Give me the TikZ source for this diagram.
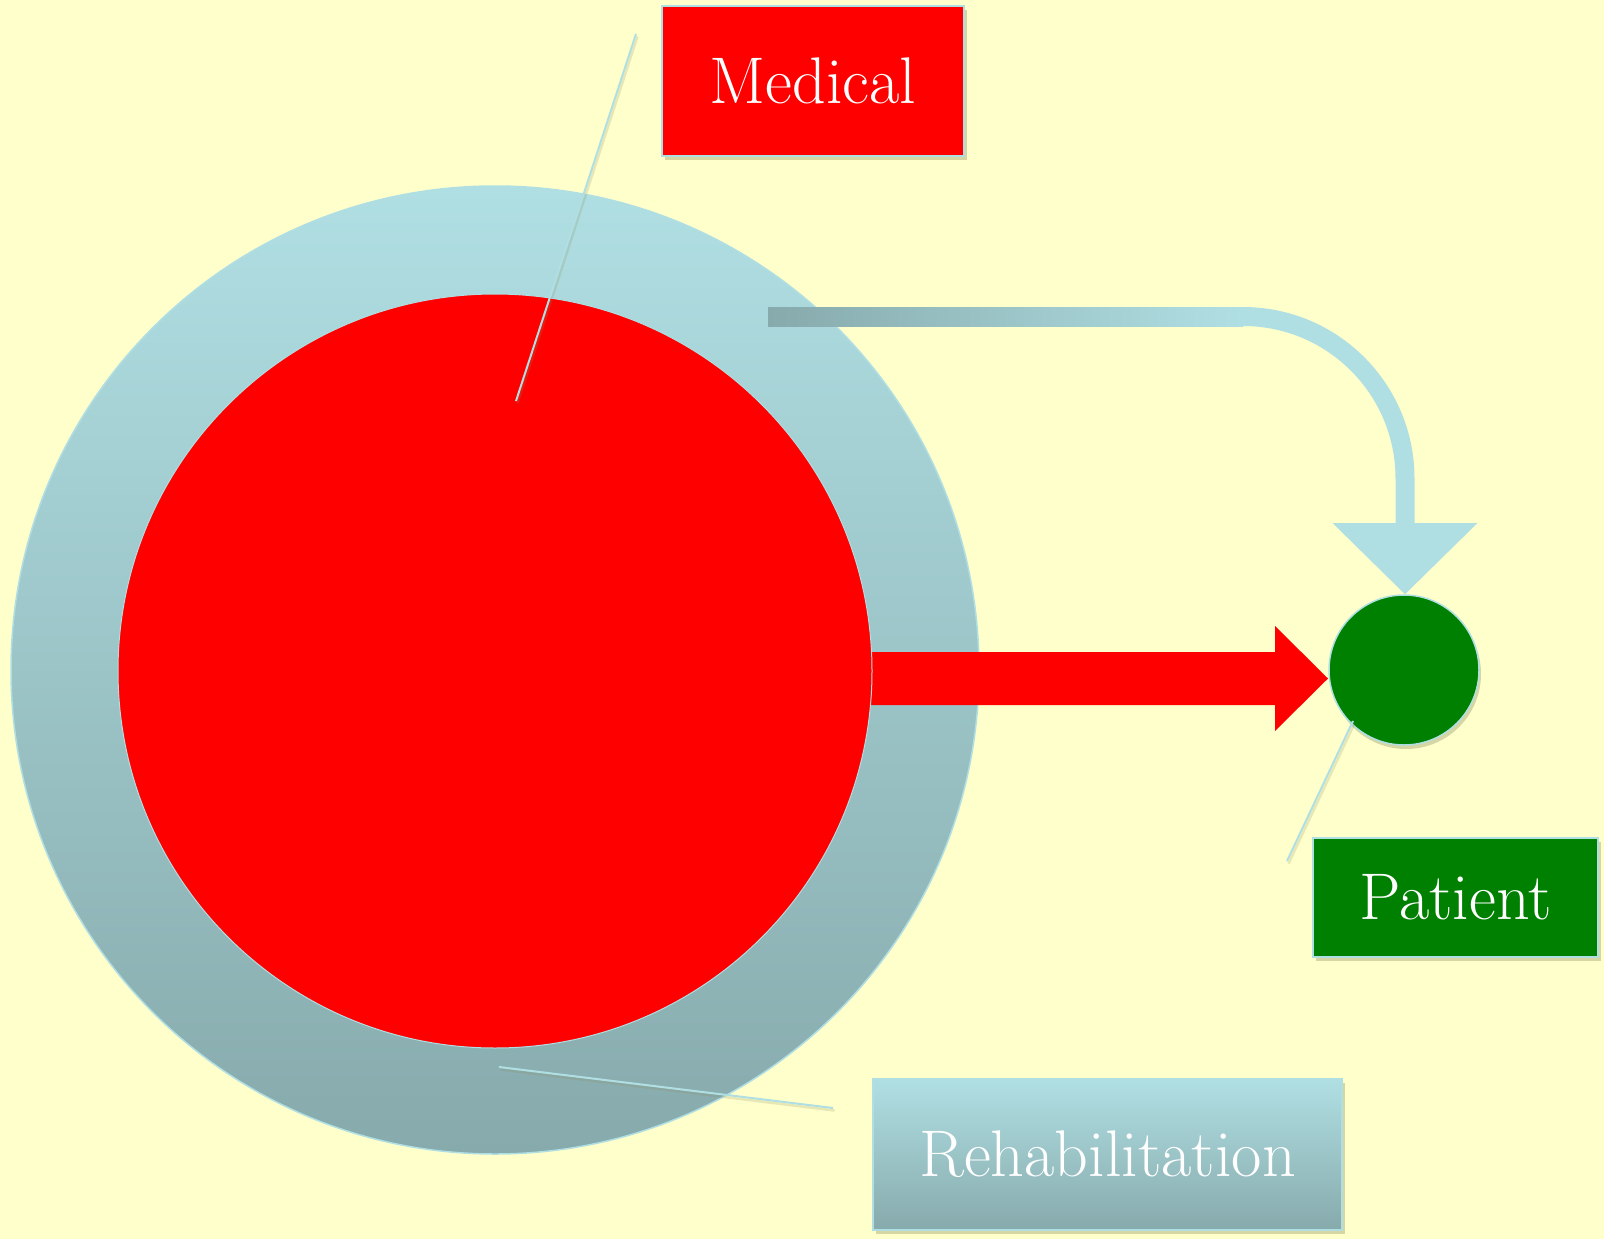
\documentclass[tikz,border=0pt]{standalone}
\usepackage{fontspec}
\usetikzlibrary{shadows,calc}
\definecolor{bgyellow}{HTML}{FFFFCC}
\definecolor{ringlight}{HTML}{B0DFE3}
\definecolor{ringdark}{HTML}{87AAAC}
\definecolor{pgreen}{HTML}{008000}
\definecolor{pred}{HTML}{FF0000}
\definecolor{shadowcol}{HTML}{8A8A5A}
\begin{document}
\begin{tikzpicture}[x=1pt,y=-1pt,
  labelbox/.style={rectangle, draw=ringlight, line width=1.5pt, text=white,
    font=\fontsize{66}{70}\selectfont, inner sep=0pt,
    drop shadow={opacity=0.35, shadow xshift=3pt, shadow yshift=-4pt, fill=shadowcol}},
  callout/.style={draw=ringlight, line width=2pt,
    preaction={draw=shadowcol, opacity=0.2, line width=2.5pt, transform canvas={shift={(1.5pt,-2.5pt)}}}},
  ring/.style={circle, inner sep=0pt},
]
\fill[bgyellow] (0,0) rectangle (1604,1239);
\useasboundingbox (0,0) rectangle (1604,1239);

% outer rehabilitation ring
\node[ring, minimum size=968pt, top color=ringlight, bottom color=ringdark, draw=ringlight, line width=1.5pt] (outer) at (495,670) {};

% patient circle
\node[ring, minimum size=150pt, fill=pgreen, draw=ringlight, line width=1.5pt,
  drop shadow={opacity=0.35, shadow xshift=2pt, shadow yshift=-4pt, fill=shadowcol}] (pat) at (1404,670) {};

% bent arrow (rehabilitation -> patient)
\coordinate (bstart) at (768,316.5);
\coordinate (bcorner) at (1243,316.5);
\coordinate (bdown) at (1405,523);
\draw[ringlight, line width=19pt] (bstart) -- (bcorner) arc[start angle=-90, end angle=0, radius=162] -- (bdown);
\shade[left color=ringdark, right color=ringlight] ($(bstart)+(0,-9.5)$) rectangle ($(bcorner)+(0,9.5)$);
\fill[ringlight] ($(bdown)+(-72.5,0)$) -- ($(bdown)+(72.5,0)$) -- (bdown |- pat.north) -- cycle;

% red arrow (medical -> patient)
\coordinate (rbase) at (495,678.5);
\coordinate (rtip) at (1328,678.5);
\fill[pred] ($(rbase)+(0,-26.5)$) -- ($(rtip)+(-53,-26.5)$) -- ($(rtip)+(-53,-52.5)$) -- (rtip)
  -- ($(rtip)+(-53,52.5)$) -- ($(rtip)+(-53,26.5)$) -- ($(rbase)+(0,26.5)$) -- cycle;

% inner medical circle
\node[ring, minimum size=754pt, fill=pred, draw=ringlight, line width=1pt] (med) at (495,671) {};

% label boxes
\node[labelbox, fill=pred, minimum width=302pt, minimum height=150pt] (medbox) at (813,81) {Medical};
\node[labelbox, fill=pgreen, minimum width=285pt, minimum height=119pt] (patbox) at (1455.5,897.5) {Patient};
\node[labelbox, top color=ringlight, bottom color=ringdark, minimum width=469pt, minimum height=151pt] (rehabbox) at (1107.5,1154.5) {Rehabilitation};

% callout lines
\coordinate (medA) at (636,34);
\coordinate (medB) at (516,401);
\coordinate (rehA) at (833,1108);
\coordinate (rehB) at (499,1067);
\coordinate (patA) at (1287,861);
\coordinate (patB) at (1353,721);
\draw[callout] (medA) -- (medB);
\draw[callout] (rehA) -- (rehB);
\draw[callout] (patA) -- (patB);
\end{tikzpicture}
\end{document}
